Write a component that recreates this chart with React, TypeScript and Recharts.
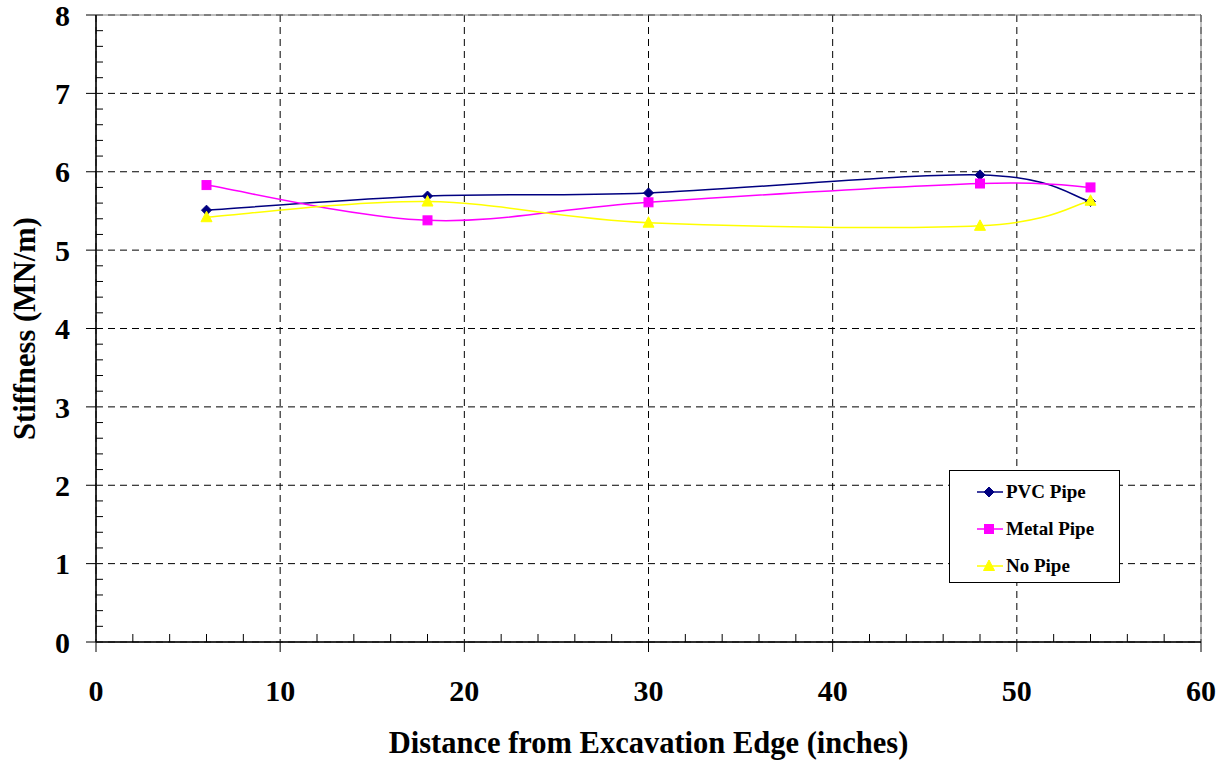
import React from "react";
import {
  LineChart,
  Line,
  XAxis,
  YAxis,
  CartesianGrid,
  Legend,
  ReferenceArea,
} from "recharts";

const distance = [6, 18, 30, 48, 54];
const pvcPipe = [5.51, 5.69, 5.73, 5.96, 5.62];
const metalPipe = [5.83, 5.38, 5.61, 5.85, 5.8];
const noPipe = [5.42, 5.62, 5.35, 5.31, 5.63];

const xTicks = [0, 10, 20, 30, 40, 50, 60];
const yTicks = [0, 1, 2, 3, 4, 5, 6, 7, 8];
const xMinorTicks = [2, 4, 6, 8, 12, 14, 16, 18, 22, 24, 26, 28, 32, 34, 36, 38, 42, 44, 46, 48, 52, 54, 56, 58];
const yMinorTicks = [
  0.2, 0.4, 0.6, 0.8, 1.2, 1.4, 1.6, 1.8, 2.2, 2.4, 2.6, 2.8, 3.2, 3.4, 3.6, 3.8,
  4.2, 4.4, 4.6, 4.8, 5.2, 5.4, 5.6, 5.8, 6.2, 6.4, 6.6, 6.8, 7.2, 7.4, 7.6, 7.8,
];

const data = distance.map((d, i) => ({
  distance: d,
  pvc: pvcPipe[i],
  metal: metalPipe[i],
  none: noPipe[i],
}));

const FONT = '"Liberation Serif", "Times New Roman", serif';

// Excel-like smoothed line (Catmull-Rom through the points)
function smoothCurve(context: any) {
  let pts: [number, number][] = [];
  return {
    areaStart() {},
    areaEnd() {},
    lineStart() {
      pts = [];
    },
    point(x: number, y: number) {
      pts.push([+x, +y]);
    },
    lineEnd() {
      if (!pts.length) return;
      context.moveTo(pts[0][0], pts[0][1]);
      for (let i = 0; i < pts.length - 1; i++) {
        const p0 = pts[Math.max(i - 1, 0)];
        const p1 = pts[i];
        const p2 = pts[i + 1];
        const p3 = pts[Math.min(i + 2, pts.length - 1)];
        context.bezierCurveTo(
          p1[0] + (p2[0] - p0[0]) / 6,
          p1[1] + (p2[1] - p0[1]) / 6,
          p2[0] - (p3[0] - p1[0]) / 6,
          p2[1] - (p3[1] - p1[1]) / 6,
          p2[0],
          p2[1],
        );
      }
    },
  };
}

type Shape = "diamond" | "square" | "triangle";

function Marker({ cx, cy, shape, color }: { cx: number; cy: number; shape: Shape; color: string }) {
  if (shape === "diamond") {
    return (
      <polygon
        points={`${cx},${cy - 5} ${cx + 5},${cy} ${cx},${cy + 5} ${cx - 5},${cy}`}
        fill={color}
        stroke={color}
      />
    );
  }
  if (shape === "square") {
    return <rect x={cx - 4.5} y={cy - 4.5} width={9} height={9} fill={color} stroke={color} />;
  }
  return (
    <polygon
      points={`${cx},${cy - 6} ${cx + 5.5},${cy + 4.5} ${cx - 5.5},${cy + 4.5}`}
      fill={color}
      stroke={color}
    />
  );
}

const SERIES: { key: string; name: string; color: string; shape: Shape }[] = [
  { key: "pvc", name: "PVC Pipe", color: "#000080", shape: "diamond" },
  { key: "metal", name: "Metal Pipe", color: "#FF00FF", shape: "square" },
  { key: "none", name: "No Pipe", color: "#FFFF00", shape: "triangle" },
];

function LegendBox() {
  return (
    <div
      style={{
        width: 171,
        height: 113,
        boxSizing: "border-box",
        border: "1px solid #000",
        background: "#fff",
        paddingTop: 2,
      }}
    >
      {SERIES.map((s) => (
        <div key={s.key} style={{ height: 37, display: "flex", alignItems: "center" }}>
          <svg width={26} height={14} style={{ marginLeft: 27 }}>
            <line x1={0} y1={7} x2={26} y2={7} stroke={s.color} strokeWidth={1.5} />
            <Marker cx={12} cy={7} shape={s.shape} color={s.color} />
          </svg>
          <span
            style={{
              marginLeft: 3,
              fontFamily: FONT,
              fontWeight: "bold",
              fontSize: 19,
              color: "#000",
            }}
          >
            {s.name}
          </span>
        </div>
      ))}
    </div>
  );
}

const tickFont = { fontSize: 30, fontWeight: "bold", fill: "#000", fontFamily: FONT };
const titleFont = { fontSize: 30.5, fontWeight: "bold", fill: "#000", fontFamily: FONT };

export default function App() {
  return (
    <div style={{ position: "absolute", left: 0, top: 0, background: "#fff" }}>
      <LineChart
        width={1228}
        height={765}
        data={data}
        margin={{ top: 15, right: 27, bottom: 0, left: 0 }}
      >
        <ReferenceArea x1={0} x2={60} y1={0} y2={8} fill="none" stroke="#808080" strokeWidth={1} ifOverflow="visible" />
        <CartesianGrid stroke="#000" strokeDasharray="7 5" strokeWidth={1} />
        <XAxis
          xAxisId="minor"
          dataKey="distance"
          type="number"
          domain={[0, 60]}
          allowDataOverflow
          ticks={xMinorTicks}
          interval={0}
          mirror
          tick={() => <g />}
          axisLine={false}
          tickLine={{ stroke: "#000" }}
          tickSize={8}
          height={2}
        />
        <YAxis
          yAxisId="minor"
          dataKey="pvc"
          type="number"
          domain={[0, 8]}
          allowDataOverflow
          ticks={yMinorTicks}
          interval={0}
          mirror
          tick={() => <g />}
          axisLine={false}
          tickLine={{ stroke: "#000" }}
          tickSize={7}
          width={2}
        />
        <XAxis
          dataKey="distance"
          type="number"
          domain={[0, 60]}
          ticks={xTicks}
          interval={0}
          height={123}
          axisLine={{ stroke: "#000", strokeWidth: 1.5 }}
          tickLine={{ stroke: "#000" }}
          tickSize={10}
          tickMargin={28}
          tick={tickFont}
          label={{
            value: "Distance from Excavation Edge (inches)",
            position: "insideBottom",
            offset: 12,
            style: titleFont,
          }}
        />
        <YAxis
          type="number"
          domain={[0, 8]}
          ticks={yTicks}
          interval={0}
          width={96}
          axisLine={{ stroke: "#000", strokeWidth: 1.5 }}
          tickLine={{ stroke: "#000" }}
          tickSize={10}
          tickMargin={16}
          tick={tickFont}
          label={{
            value: "Stiffness (MN/m)",
            angle: -90,
            position: "insideLeft",
            offset: 24,
            style: { ...titleFont, textAnchor: "middle" },
          }}
        />
        <Legend
          layout="vertical"
          align="center"
          verticalAlign="middle"
          content={() => <LegendBox />}
          wrapperStyle={{ left: 949, top: 470, width: 171 }}
        />
        {SERIES.map((s) => (
          <Line
            key={s.key}
            dataKey={s.key}
            name={s.name}
            type={smoothCurve as any}
            stroke={s.color}
            strokeWidth={1.5}
            dot={(p: any) => <Marker key={`${s.key}-${p.index}`} cx={p.cx} cy={p.cy} shape={s.shape} color={s.color} />}
            activeDot={false}
            isAnimationActive={false}
          />
        ))}
      </LineChart>
    </div>
  );
}
